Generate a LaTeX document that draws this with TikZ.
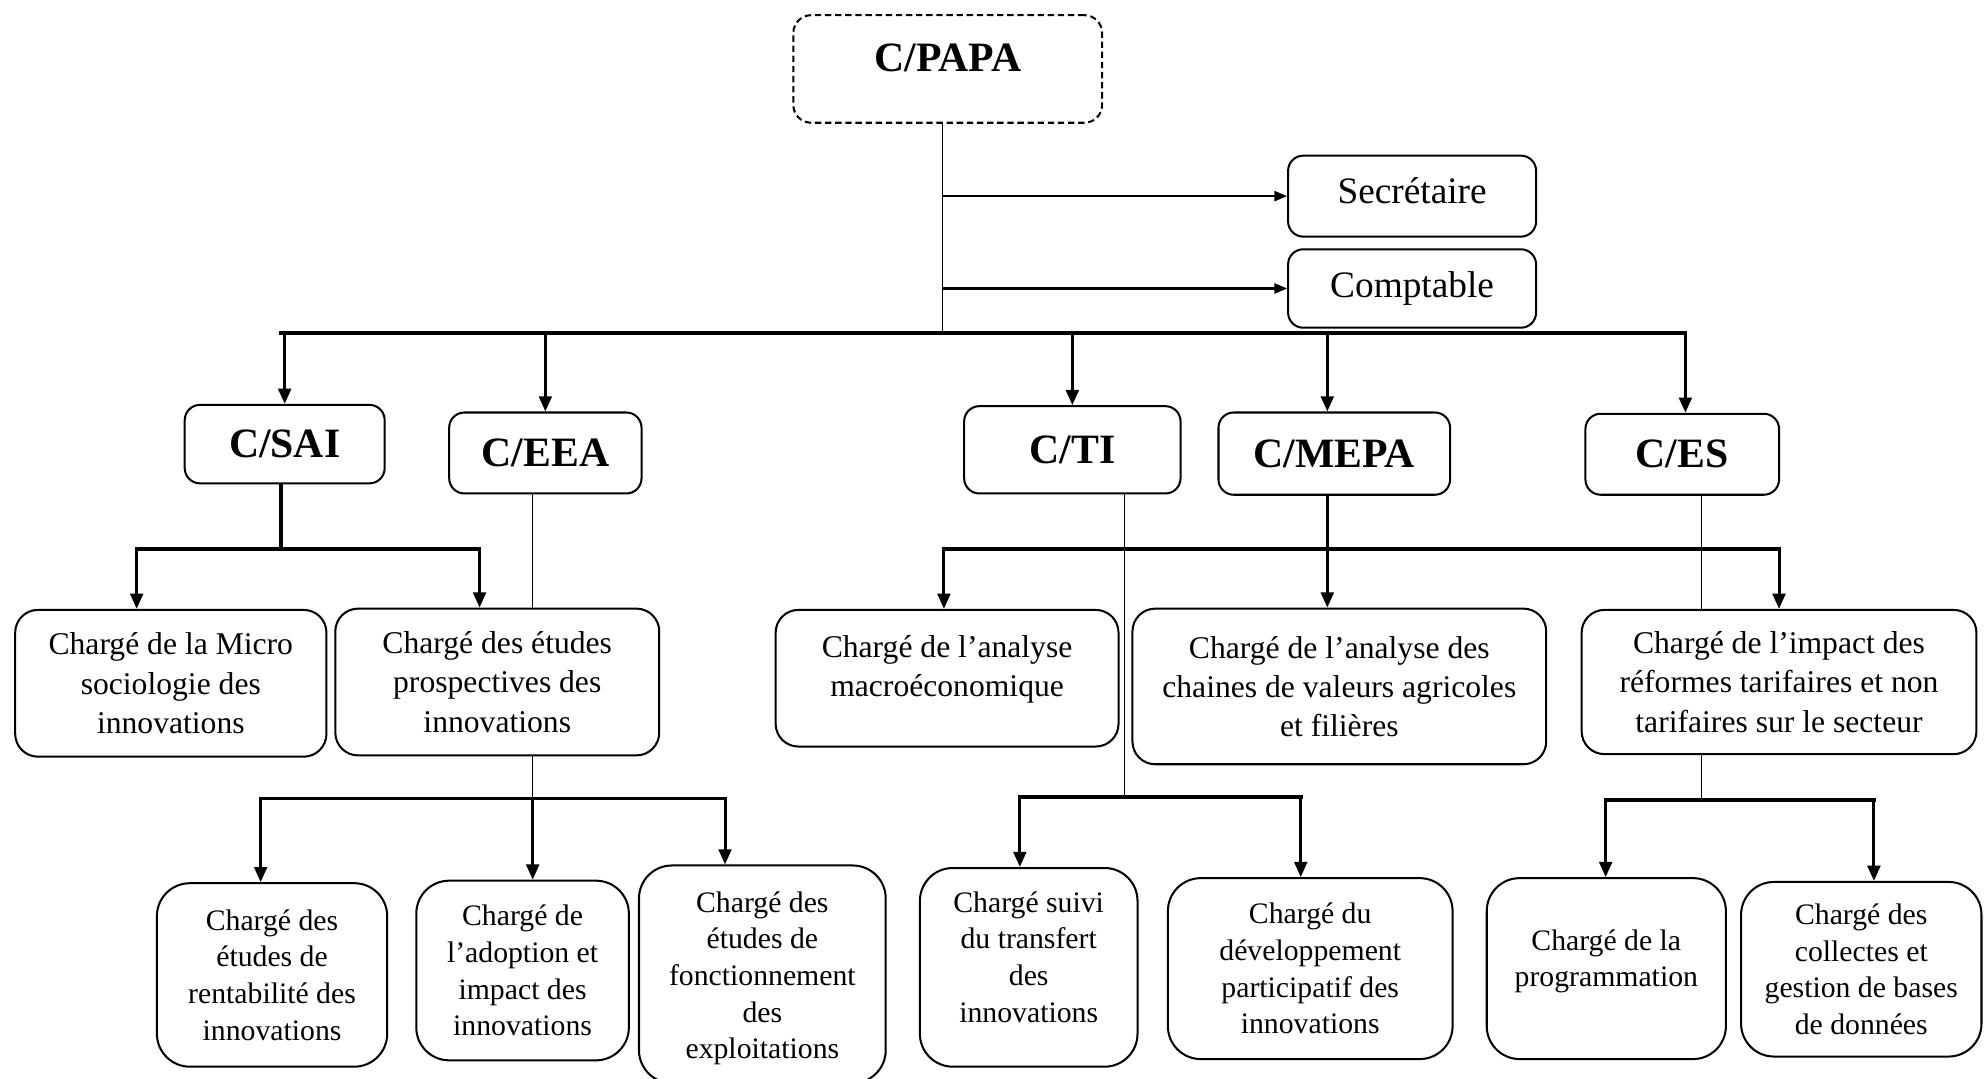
\documentclass[tikz,border=0pt]{standalone}
\usepackage{fontspec}
\setmainfont{Liberation Serif}
\usetikzlibrary{arrows.meta,backgrounds}
\newcommand\myraise[2]{\raisebox{#1}[\height][\depth]{\begin{tabular}{@{}c@{}}#2\end{tabular}}}
\begin{document}
\begin{tikzpicture}[x=1pt,y=-1pt,
  sz/.style 2 args={minimum width=#1pt, minimum height=#2pt},
  box/.style={draw, line width=1.6pt, rounded corners=12pt, fill=white, inner sep=0pt, align=center},
  head/.style={box, font=\fontsize{33}{38}\selectfont\bfseries},
  staff/.style={box, font=\fontsize{29.5}{34}\selectfont},
  mid/.style={box, rounded corners=18pt, font=\fontsize{25}{31}\selectfont},
  low/.style={box, rounded corners=26pt, font=\fontsize{23.5}{29}\selectfont},
  thinln/.style={line width=0.8pt},
  busln/.style={line width=3pt, line cap=rect},
  arr/.style={line width=2.4pt, -{Triangle[length=12pt,width=10pt]}},
  arrthin/.style={line width=1.6pt, -{Triangle[length=10pt,width=8pt]}}
]
\useasboundingbox (0,0) rectangle (1568,852);

% top
\node[head, dashed, dash pattern=on 5pt off 3pt, rounded corners=14pt, sz={244}{85}] (papa) at (749,54.5) {\raisebox{9pt}[\height][\depth]{C/PAPA}};
\node[staff, sz={196}{64}] (sec) at (1116,155) {\raisebox{4pt}[\height][\depth]{Secrétaire}};
\node[staff, sz={196}{62}] (comp) at (1116,228) {Comptable};

% second level
\node[head, sz={158}{62}] (sai) at (225,351) {C/SAI};
\node[head, sz={152}{64}] (eea) at (431,358) {C/EEA};
\node[head, sz={171}{69}] (ti) at (847.5,355.5) {C/TI};
\node[head, sz={183}{65}] (mepa) at (1054.5,358.5) {C/MEPA};
\node[head, sz={153}{64}] (es) at (1329.5,359) {C/ES};

% third level
\node[mid, sz={246}{116}] (micro) at (135,540) {Chargé de la Micro\\sociologie des\\innovations};
\node[mid, sz={256}{116}] (prosp) at (393,539) {Chargé des études\\prospectives des\\innovations};
\node[mid, sz={271}{108}] (macro) at (748.5,536) {\myraise{7pt}{Chargé de l’analyse\\macroéconomique}};
\node[mid, sz={327}{123}] (chaines) at (1058.5,542.5) {Chargé de l’analyse des\\chaines de valeurs agricoles\\et filières};
\node[mid, sz={312}{114}] (impact) at (1406,539) {Chargé de l’impact des\\réformes tarifaires et non\\tarifaires sur le secteur};

% fourth level
\node[low, sz={182}{145}] (rent) at (215,770.5) {Chargé des\\études de\\rentabilité des\\innovations};
\node[low, sz={168}{142}] (adop) at (413,767) {Chargé de\\l’adoption et\\impact des\\innovations};
\node[low, sz={195}{172}] (expl) at (602.5,770) {\myraise{-3pt}{Chargé des\\études de\\fonctionnement\\des\\exploitations}};
\node[low, sz={172}{157}] (suivi) at (813,764.5) {\myraise{6pt}{Chargé suivi\\du transfert\\des\\innovations}};
\node[low, sz={225}{143}] (dev) at (1035.5,765.5) {Chargé du\\développement\\participatif des\\innovations};
\node[low, sz={189}{143}] (prog) at (1269.5,765.5) {\myraise{6pt}{Chargé de la\\programmation}};
\node[low, sz={190}{138}] (coll) at (1471,766) {Chargé des\\collectes et\\gestion de bases\\de données};

% bus coordinates
\coordinate (b1L) at (222,263); \coordinate (b1R) at (1332,263); \coordinate (b1M) at (745,263);
\coordinate (b2L) at (108,434); \coordinate (b2R) at (379,434); \coordinate (b2M) at (222,434);
\coordinate (b3L) at (206,631); \coordinate (b3R) at (573,631); \coordinate (b3M) at (421,631);
\coordinate (b4L) at (746,434); \coordinate (b4R) at (1406,434); \coordinate (b4M) at (1049,434);
\coordinate (b5L) at (806,630); \coordinate (b5R) at (1028,630); \coordinate (b5M) at (889,630);
\coordinate (b6L) at (1269,632); \coordinate (b6R) at (1481,632); \coordinate (b6M) at (1345,632);

\begin{scope}[on background layer]
% top
\draw[thinln] (b1M |- papa.south) -- (b1M);
\draw[arrthin] (b1M |- sec.west) -- (sec.west);
\draw[arrthin] (b1M |- comp.west) -- (comp.west);
\draw[busln] (b1L) -- (b1R);
\draw[arr] (sai.north |- b1L) -- (sai.north);
\draw[arr] (eea.north |- b1L) -- (eea.north);
\draw[arr] (ti.north |- b1L) -- (ti.north);
\draw[arr] (b4M |- b1L) -- (b4M |- mepa.north);
\draw[arr] (b1R) -- (b1R |- es.north);
% C/SAI
\draw[line width=2.6pt] (b2M |- sai.south) -- (b2M);
\draw[busln] (b2L) -- (b2R);
\draw[arr] (b2L) -- (b2L |- micro.north);
\draw[arr] (b2R) -- (b2R |- prosp.north);
% C/EEA
\draw[thinln] (b3M |- eea.south) -- (b3M);
\draw[busln] (b3L) -- (b3R);
\draw[arr] (b3L) -- (b3L |- rent.north);
\draw[arr] (b3M) -- (b3M |- adop.north);
\draw[arr] (b3R) -- (b3R |- expl.north);
% C/MEPA
\draw[busln] (b4L) -- (b4R);
\draw[arr] (b4M |- mepa.south) -- (b4M |- chaines.north);
\draw[arr] (b4L) -- (b4L |- macro.north);
\draw[arr] (b4R) -- (b4R |- impact.north);
% C/TI
\draw[thinln] (b5M |- ti.south) -- (b5M);
\draw[busln] (b5L) -- (b5R);
\draw[arr] (b5L) -- (b5L |- suivi.north);
\draw[arr] (b5R) -- (b5R |- dev.north);
% C/ES
\draw[thinln] (b6M |- es.south) -- (b6M);
\draw[busln] (b6L) -- (b6R);
\draw[arr] (b6L) -- (b6L |- prog.north);
\draw[arr] (b6R) -- (b6R |- coll.north);
\end{scope}
\end{tikzpicture}
\end{document}
